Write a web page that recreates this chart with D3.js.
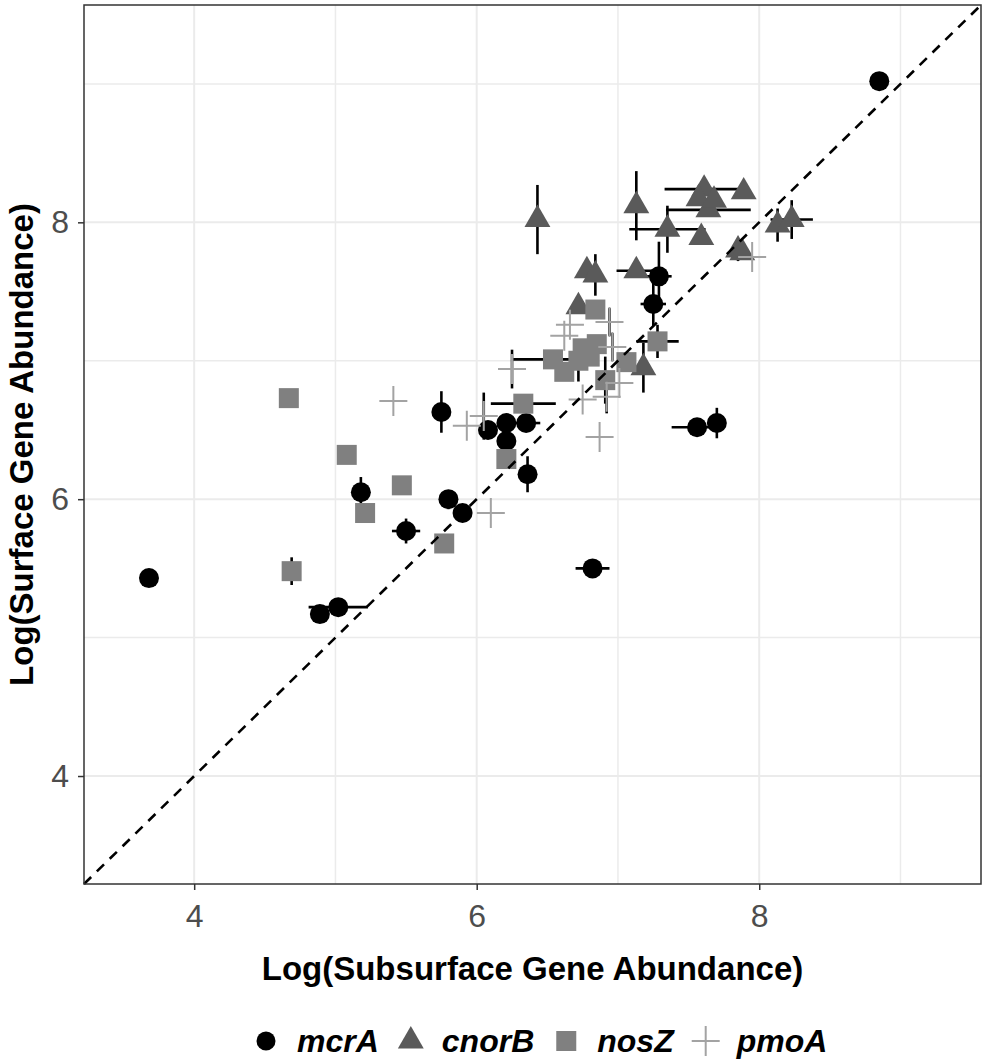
<!DOCTYPE html>
<html>
<head>
<meta charset="utf-8">
<script src="https://cdn.jsdelivr.net/npm/d3@7"></script>
<style>
  body { margin: 0; background: #fff; }
  text { font-family: "Liberation Sans", Arial, sans-serif; }
  .axis text { fill: #4d4d4d; font-size: 32px; }
  .axis line { stroke: #333; stroke-width: 1.5px; }
  .title { font-size: 33px; font-weight: bold; fill: #000; }
  .legend text { font-size: 32px; font-weight: bold; font-style: italic; fill: #000; }
</style>
</head>
<body>
<script>
// x = subsurface, y = surface, xe / ye = half length of error bars
var mcrA = [
  {x: 8.85, y: 9.02, xe: 0, ye: 0},
  {x: 3.68, y: 5.43, xe: 0, ye: 0.06},
  {x: 4.89, y: 5.17, xe: 0, ye: 0},
  {x: 5.02, y: 5.22, xe: 0.21, ye: 0},
  {x: 5.18, y: 6.05, xe: 0, ye: 0.11},
  {x: 5.50, y: 5.77, xe: 0.10, ye: 0.09},
  {x: 5.80, y: 6.00, xe: 0, ye: 0.05},
  {x: 5.90, y: 5.90, xe: 0, ye: 0},
  {x: 5.75, y: 6.63, xe: 0, ye: 0.15},
  {x: 6.08, y: 6.50, xe: 0, ye: 0},
  {x: 6.21, y: 6.55, xe: 0, ye: 0},
  {x: 6.35, y: 6.55, xe: 0.10, ye: 0},
  {x: 6.21, y: 6.42, xe: 0, ye: 0},
  {x: 6.36, y: 6.18, xe: 0, ye: 0.13},
  {x: 6.82, y: 5.50, xe: 0.12, ye: 0},
  {x: 7.56, y: 6.52, xe: 0.18, ye: 0},
  {x: 7.70, y: 6.55, xe: 0, ye: 0.11},
  {x: 7.29, y: 7.61, xe: 0.09, ye: 0.25},
  {x: 7.25, y: 7.41, xe: 0.09, ye: 0.16}
];

var cnorB = [
  {x: 6.43, y: 8.02, xe: 0, ye: 0.25},
  {x: 7.13, y: 8.12, xe: 0, ye: 0.25},
  {x: 7.61, y: 8.24, xe: 0.28, ye: 0},
  {x: 7.64, y: 8.09, xe: 0.30, ye: 0},
  {x: 7.57, y: 8.17, xe: 0, ye: 0},
  {x: 7.68, y: 8.16, xe: 0, ye: 0.06},
  {x: 7.89, y: 8.22, xe: 0, ye: 0},
  {x: 7.35, y: 7.95, xe: 0.27, ye: 0.17},
  {x: 7.59, y: 7.89, xe: 0, ye: 0},
  {x: 8.13, y: 7.98, xe: 0, ye: 0.12},
  {x: 8.23, y: 8.02, xe: 0.15, ye: 0.14},
  {x: 7.85, y: 7.80, xe: 0, ye: 0.08},
  {x: 7.88, y: 7.78, xe: 0, ye: 0},
  {x: 7.13, y: 7.65, xe: 0.14, ye: 0},
  {x: 6.78, y: 7.65, xe: 0, ye: 0},
  {x: 6.84, y: 7.62, xe: 0, ye: 0.15},
  {x: 6.72, y: 7.39, xe: 0, ye: 0},
  {x: 7.18, y: 6.95, xe: 0, ye: 0.18}
];

var nosZ = [
  {x: 4.67, y: 6.73, xe: 0, ye: 0},
  {x: 5.08, y: 6.32, xe: 0.05, ye: 0},
  {x: 5.47, y: 6.10, xe: 0, ye: 0},
  {x: 5.21, y: 5.90, xe: 0.05, ye: 0},
  {x: 4.69, y: 5.48, xe: 0, ye: 0.10},
  {x: 5.77, y: 5.68, xe: 0, ye: 0},
  {x: 6.21, y: 6.29, xe: 0, ye: 0},
  {x: 6.33, y: 6.69, xe: 0.23, ye: 0},
  {x: 6.84, y: 7.37, xe: 0, ye: 0},
  {x: 7.28, y: 7.14, xe: 0.15, ye: 0.12},
  {x: 6.54, y: 7.01, xe: 0.28, ye: 0},
  {x: 6.62, y: 6.92, xe: 0, ye: 0},
  {x: 6.72, y: 7.00, xe: 0, ye: 0.15},
  {x: 6.75, y: 7.09, xe: 0, ye: 0},
  {x: 6.85, y: 7.12, xe: 0, ye: 0},
  {x: 6.80, y: 7.03, xe: 0, ye: 0},
  {x: 6.91, y: 6.86, xe: 0, ye: 0.17},
  {x: 7.06, y: 6.99, xe: 0, ye: 0}
];

var pmoA = [
  {x: 5.41, y: 6.71, xe: 0, ye: 0},
  {x: 5.93, y: 6.53, xe: 0, ye: 0},
  {x: 6.05, y: 6.60, xe: 0, ye: 0.17},
  {x: 6.10, y: 5.90, xe: 0, ye: 0},
  {x: 6.25, y: 6.94, xe: 0, ye: 0.14},
  {x: 6.62, y: 7.18, xe: 0, ye: 0},
  {x: 6.66, y: 7.26, xe: 0, ye: 0},
  {x: 6.75, y: 6.72, xe: 0, ye: 0},
  {x: 6.87, y: 6.45, xe: 0, ye: 0},
  {x: 6.92, y: 6.74, xe: 0, ye: 0.12},
  {x: 6.94, y: 7.28, xe: 0, ye: 0.10},
  {x: 6.96, y: 7.10, xe: 0, ye: 0.10},
  {x: 7.01, y: 6.84, xe: 0, ye: 0},
  {x: 7.95, y: 7.75, xe: 0, ye: 0}
];

var genes = ["mcrA", "cnorB", "nosZ", "pmoA"];
var majorTicks = [4, 6, 8];
var minorTicks = [5, 7, 9];
var axisRange = [3.22, 9.57];

var width = 987, height = 1064;
var panelLeft = 84, panelRight = 981, panelTop = 5, panelBottom = 884;

var svg = d3.select("body").append("svg")
  .attr("width", width)
  .attr("height", height);

var x = d3.scaleLinear().domain(axisRange).range([panelLeft, panelRight]);
var y = d3.scaleLinear().domain(axisRange).range([panelBottom, panelTop]);

// grid lines
var grid = svg.append("g").attr("class", "grid");

function gridLines(ticks, w) {
  grid.selectAll(null).data(ticks).enter().append("line")
    .attr("x1", function(d) { return x(d); })
    .attr("x2", function(d) { return x(d); })
    .attr("y1", panelTop).attr("y2", panelBottom)
    .attr("stroke", "#ebebeb").attr("stroke-width", w);
  grid.selectAll(null).data(ticks).enter().append("line")
    .attr("y1", function(d) { return y(d); })
    .attr("y2", function(d) { return y(d); })
    .attr("x1", panelLeft).attr("x2", panelRight)
    .attr("stroke", "#ebebeb").attr("stroke-width", w);
}
gridLines(minorTicks, 1.5);
gridLines(majorTicks, 2);

// error bars under the points
var allData = [].concat(mcrA, cnorB, nosZ, pmoA);
var bars = svg.append("g")
  .attr("stroke", "#000")
  .attr("stroke-width", 2.6);

bars.selectAll(null).data(allData.filter(function(d) { return d.xe > 0; }))
  .enter().append("line")
  .attr("x1", function(d) { return x(d.x - d.xe); })
  .attr("x2", function(d) { return x(d.x + d.xe); })
  .attr("y1", function(d) { return y(d.y); })
  .attr("y2", function(d) { return y(d.y); });

bars.selectAll(null).data(allData.filter(function(d) { return d.ye > 0; }))
  .enter().append("line")
  .attr("x1", function(d) { return x(d.x); })
  .attr("x2", function(d) { return x(d.x); })
  .attr("y1", function(d) { return y(d.y - d.ye); })
  .attr("y2", function(d) { return y(d.y + d.ye); });

// point shapes
var triangle = d3.symbol().type(d3.symbolTriangle).size(290)();
var plus = "M-14,0H14M0,-15V15";

function drawShape(sel, gene) {
  if (gene == "mcrA") {
    sel.append("circle").attr("r", 10).attr("fill", "#000");
  } else if (gene == "cnorB") {
    sel.append("path").attr("d", triangle).attr("fill", "#5a5a5a");
  } else if (gene == "nosZ") {
    sel.append("rect").attr("x", -10).attr("y", -10)
      .attr("width", 20).attr("height", 20).attr("fill", "#808080");
  } else {
    sel.append("path").attr("d", plus)
      .attr("stroke", "#a3a3a3").attr("stroke-width", 2).attr("fill", "none");
  }
}

var series = {mcrA: mcrA, cnorB: cnorB, nosZ: nosZ, pmoA: pmoA};
genes.forEach(function(g) {
  svg.append("g").selectAll(null).data(series[g]).enter().append("g")
    .attr("transform", function(d) { return "translate(" + x(d.x) + "," + y(d.y) + ")"; })
    .each(function() { drawShape(d3.select(this), g); });
});

// 1:1 line
svg.append("line")
  .attr("x1", x(axisRange[0])).attr("y1", y(axisRange[0]))
  .attr("x2", x(axisRange[1])).attr("y2", y(axisRange[1]))
  .attr("stroke", "#000")
  .attr("stroke-width", 2.6)
  .attr("stroke-dasharray", "10,8");

// panel border
svg.append("rect")
  .attr("x", panelLeft).attr("y", panelTop)
  .attr("width", panelRight - panelLeft).attr("height", panelBottom - panelTop)
  .attr("fill", "none").attr("stroke", "#333").attr("stroke-width", 1.5);

// axes
svg.append("g").attr("class", "axis")
  .attr("transform", "translate(0," + panelBottom + ")")
  .call(d3.axisBottom(x).tickValues(majorTicks).tickSize(6).tickPadding(14).tickFormat(d3.format("d")));
svg.append("g").attr("class", "axis")
  .attr("transform", "translate(" + panelLeft + ",0)")
  .call(d3.axisLeft(y).tickValues(majorTicks).tickSize(6).tickPadding(9).tickFormat(d3.format("d")));
svg.selectAll(".axis .domain").remove();
svg.selectAll(".axis").attr("font-family", null).attr("font-size", null);

// titles
svg.append("text").attr("class", "title")
  .attr("x", (panelLeft + panelRight) / 2).attr("y", 980)
  .attr("text-anchor", "middle")
  .text("Log(Subsurface Gene Abundance)");

svg.append("text").attr("class", "title")
  .attr("transform", "translate(33," + (panelTop + panelBottom) / 2 + ") rotate(-90)")
  .attr("text-anchor", "middle")
  .text("Log(Surface Gene Abundance)");

// legend
var legend = svg.append("g").attr("class", "legend");
var cx = 266, cy = 1041;
genes.forEach(function(g) {
  var key = legend.append("g").attr("transform", "translate(" + cx + "," + cy + ")");
  if (g == "mcrA") {
    key.append("circle").attr("r", 9.5).attr("fill", "#000");
  } else {
    drawShape(key, g);
  }
  var t = legend.append("text")
    .attr("x", cx + 31).attr("y", 1052)
    .text(g);
  cx = cx + 31 + t.node().getComputedTextLength() + 32;
});
</script>
</body>
</html>
